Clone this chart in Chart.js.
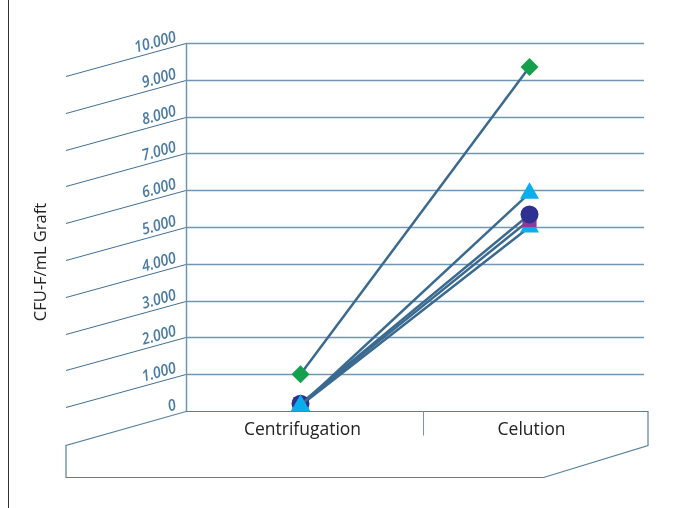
<!DOCTYPE html>
<html><head><meta charset="utf-8">
<script src="https://cdn.jsdelivr.net/npm/chart.js@4/dist/chart.umd.min.js"></script>
<style>html,body{margin:0;padding:0;background:#fff;}</style>
</head><body>
<canvas id="c" width="676" height="508"></canvas>
<script>
const categories = ['Centrifugation', 'Celution'];
const triangleTopValues = [150, 5920];
const circleValues = [200, 5340];
const squareValues = [180, 5190];
const triangleLowValues = [150, 5000];
const diamondValues = [1000, 9350];
const yTickValues = [0, 1000, 2000, 3000, 4000, 5000, 6000, 7000, 8000, 9000, 10000];
const yTickLabels = ['0', '1.000', '2.000', '3.000', '4.000', '5.000', '6.000', '7.000', '8.000', '9.000', '10.000'];
const yTitle = 'CFU-F/mL Graft';

const LINE = '#3a6a8f';
function ds(data, color, style, r) {
  return { data, borderColor: LINE, borderWidth: 2.5, backgroundColor: color,
    pointBackgroundColor: color, pointBorderColor: color, pointBorderWidth: 0,
    pointStyle: style, pointRadius: r, tension: 0, fill: false };
}

const deco = {
  id: 'deco',
  beforeDatasetsDraw(chart) {
    const ctx = chart.ctx, ca = chart.chartArea, y = chart.scales.y, x = chart.scales.x;
    const dx = -120, dy = 33;
    ctx.save();
    ctx.strokeStyle = '#333'; ctx.lineWidth = 1;
    ctx.beginPath(); ctx.moveTo(8.5, 0); ctx.lineTo(8.5, 508); ctx.stroke();
    yTickValues.forEach((v, i) => {
      const py = Math.round(y.getPixelForValue(v)) + 0.5;
      if (v > 0) {
        ctx.strokeStyle = '#7196b4'; ctx.lineWidth = 1.5;
        ctx.beginPath(); ctx.moveTo(ca.left, py); ctx.lineTo(ca.right, py); ctx.stroke();
        ctx.strokeStyle = '#3f6f95'; ctx.lineWidth = 1;
        ctx.beginPath(); ctx.moveTo(ca.left, py); ctx.lineTo(ca.left + dx, py + dy); ctx.stroke();
      }
      ctx.save();
      ctx.translate(ca.left - 9, py - 2);
      ctx.rotate(Math.atan2(dy, dx) + Math.PI);
      ctx.scale(0.88, 1);
      ctx.fillStyle = '#4a7ba2';
      ctx.font = 'italic 600 16px "Open Sans"';
      ctx.textAlign = 'right'; ctx.textBaseline = 'alphabetic';
      ctx.fillText(yTickLabels[i], 0, 0);
      ctx.restore();
    });
    ctx.strokeStyle = '#7196b4'; ctx.lineWidth = 1.5;
    ctx.beginPath(); ctx.moveTo(ca.left + 0.5, ca.top); ctx.lineTo(ca.left + 0.5, ca.bottom); ctx.stroke();
    const b = Math.round(ca.bottom) + 0.5;
    ctx.strokeStyle = '#55819f'; ctx.lineWidth = 1.2;
    ctx.beginPath();
    ctx.moveTo(ca.left, b);
    ctx.lineTo(ca.right + 4, b);
    ctx.lineTo(ca.right + 4, b + 34);
    ctx.lineTo(ca.right + 4 + dx * 0.87, b + 66);
    ctx.lineTo(ca.left + dx, b + 66);
    ctx.lineTo(ca.left + dx, b + 34);
    ctx.closePath();
    ctx.stroke();
    const xm = (x.getPixelForValue(0) + x.getPixelForValue(1)) / 2 + 8;
    ctx.strokeStyle = '#7196b4'; ctx.lineWidth = 1;
    ctx.beginPath(); ctx.moveTo(Math.round(xm) + 0.5, b); ctx.lineTo(Math.round(xm) + 0.5, b + 24); ctx.stroke();
    ctx.fillStyle = '#222'; ctx.font = '17.5px "Open Sans"';
    ctx.textAlign = 'center'; ctx.textBaseline = 'middle';
    categories.forEach((c, i) => ctx.fillText(c, x.getPixelForValue(i) + 2, b + 19));
    ctx.save();
    ctx.translate(41, 262); ctx.rotate(-Math.PI / 2);
    ctx.font = '16.5px "Open Sans"'; ctx.fillStyle = '#222';
    ctx.textAlign = 'center'; ctx.textBaseline = 'middle';
    ctx.fillText(yTitle, 0, 0);
    ctx.restore();
    ctx.restore();
  }
};

new Chart(document.getElementById('c'), {
  type: 'line',
  data: {
    labels: categories,
    datasets: [
      ds(triangleTopValues, '#0aaeea', 'triangle', 11),
      ds(circleValues, '#2e3192', 'circle', 9),
      ds(squareValues, '#8e3a97', 'rect', 10),
      ds(triangleLowValues, '#0aaeea', 'triangle', 11),
      ds(diamondValues, '#14a04c', 'rectRot', 9)
    ]
  },
  options: {
    responsive: false,
    animation: false,
    layout: { padding: { left: 186, top: 43, right: 32, bottom: 97 } },
    plugins: { legend: { display: false }, tooltip: { enabled: false } },
    scales: {
      x: { type: 'category', offset: true, display: false },
      y: { min: 0, max: 10000, display: false }
    }
  },
  plugins: [deco]
});
</script>
</body></html>
